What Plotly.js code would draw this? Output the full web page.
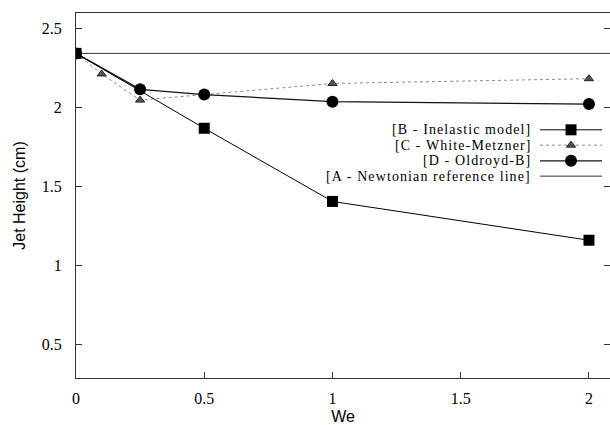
<!DOCTYPE html>
<html>
<head>
<meta charset="utf-8">
<script src="https://cdn.plot.ly/plotly-3.0.1.min.js"></script>
<style>
html,body{margin:0;padding:0;background:#fff;overflow:hidden}
.annotation-text{letter-spacing:1.1px}
</style>
</head>
<body>
<div id="chart" style="width:610px;height:425px"></div>
<script>
// Data
const xNewtonian = [0, 2.1];
const yNewtonian = [2.34, 2.34];

const xInelastic = [0, 0.5, 1, 2];
const yInelastic = [2.34, 1.867, 1.405, 1.16];

const xWhiteMetzner = [0, 0.1, 0.25, 0.5, 1, 2];
const yWhiteMetzner = [2.34, 2.21, 2.045, 2.08, 2.15, 2.18];

const xOldroyd = [0, 0.25, 0.5, 1, 2];
const yOldroyd = [2.34, 2.113, 2.08, 2.035, 2.02];

const xTicks = [0, 0.5, 1, 1.5, 2];
const xTickText = ['0', '0.5', '1', '1.5', '2'];
const yTicks = [0.5, 1, 1.5, 2, 2.5];
const yTickText = ['0.5', '1', '1.5', '2', '2.5'];

const legendLabels = ['[B - Inelastic model]', '[C - White-Metzner]', '[D - Oldroyd-B]', '[A - Newtonian reference line]'];

// Styles
const styleB = {line: {color: '#000', width: 1}, marker: {symbol: 'square', size: 11, color: '#000'}};
const styleC = {line: {color: '#8a8a8a', width: 1, dash: 'dot'}, marker: {symbol: 'triangle-up', size: 8, color: '#555', line: {color: '#222', width: 1}}};
const styleD = {line: {color: '#111', width: 1.3}, marker: {symbol: 'circle', size: 12, color: '#000'}};
const styleA = {line: {color: '#333', width: 1}};

const traces = [
  {x: xNewtonian, y: yNewtonian, mode: 'lines', line: styleA.line, hoverinfo: 'skip'},
  {x: xWhiteMetzner, y: yWhiteMetzner, mode: 'lines+markers', line: styleC.line, marker: styleC.marker},
  {x: xOldroyd, y: yOldroyd, mode: 'lines+markers', line: styleD.line, marker: styleD.marker},
  {x: xInelastic, y: yInelastic, mode: 'lines+markers', line: styleB.line, marker: styleB.marker}
];

// Legend glyphs (gnuplot-style key: text right-aligned, sample on right)
const keyX0 = 0.869, keyX1 = 0.985, keyXm = 0.927;
const keyY = [0.680, 0.638, 0.595, 0.553];
const keyStyles = [styleB, styleC, styleD, styleA];
keyStyles.forEach((s, i) => {
  traces.push({x: [keyX0, keyX1], y: [keyY[i], keyY[i]], xaxis: 'x2', yaxis: 'y2', mode: 'lines', line: s.line, hoverinfo: 'skip'});
  if (s.marker) {
    traces.push({x: [keyXm], y: [keyY[i]], xaxis: 'x2', yaxis: 'y2', mode: 'markers', marker: s.marker, hoverinfo: 'skip'});
  }
});

const annotations = legendLabels.map((t, i) => ({
  text: t, xref: 'paper', yref: 'paper', x: 0.853, y: keyY[i],
  xanchor: 'right', yanchor: 'middle', showarrow: false, borderpad: 0,
  font: {family: 'Liberation Serif', size: 14, color: '#000'}
}));

const tickFont = {family: 'Liberation Serif', size: 16, color: '#000'};
const titleFont = {family: 'Liberation Sans', size: 16, color: '#000'};

const layout = {
  width: 610, height: 425,
  margin: {l: 76, r: 0, t: 13, b: 47},
  paper_bgcolor: '#fff', plot_bgcolor: '#fff',
  showlegend: false,
  xaxis: {
    range: [0, 2.082], tickvals: xTicks, ticktext: xTickText,
    ticks: 'inside', ticklen: 6, tickcolor: '#333', tickwidth: 1,
    showline: true, linecolor: '#333', linewidth: 1, mirror: true,
    showgrid: false, zeroline: false, tickfont: tickFont, ticklabelstandoff: 6,
    title: {text: 'We', font: titleFont, standoff: 6}
  },
  yaxis: {
    range: [0.29, 2.595], tickvals: yTicks, ticktext: yTickText,
    ticks: 'inside', ticklen: 6, tickcolor: '#333', tickwidth: 1,
    showline: true, linecolor: '#333', linewidth: 1, mirror: 'ticks',
    showgrid: false, zeroline: false, tickfont: tickFont, ticklabelstandoff: 10,
    title: {text: 'Jet Height (cm)', font: titleFont, standoff: 12}
  },
  xaxis2: {overlaying: 'x', range: [0, 1], visible: false, anchor: 'y2'},
  yaxis2: {overlaying: 'y', range: [0, 1], visible: false, anchor: 'x2'},
  annotations: annotations
};

Plotly.newPlot('chart', traces, layout, {displayModeBar: false, staticPlot: true});
</script>
</body>
</html>
